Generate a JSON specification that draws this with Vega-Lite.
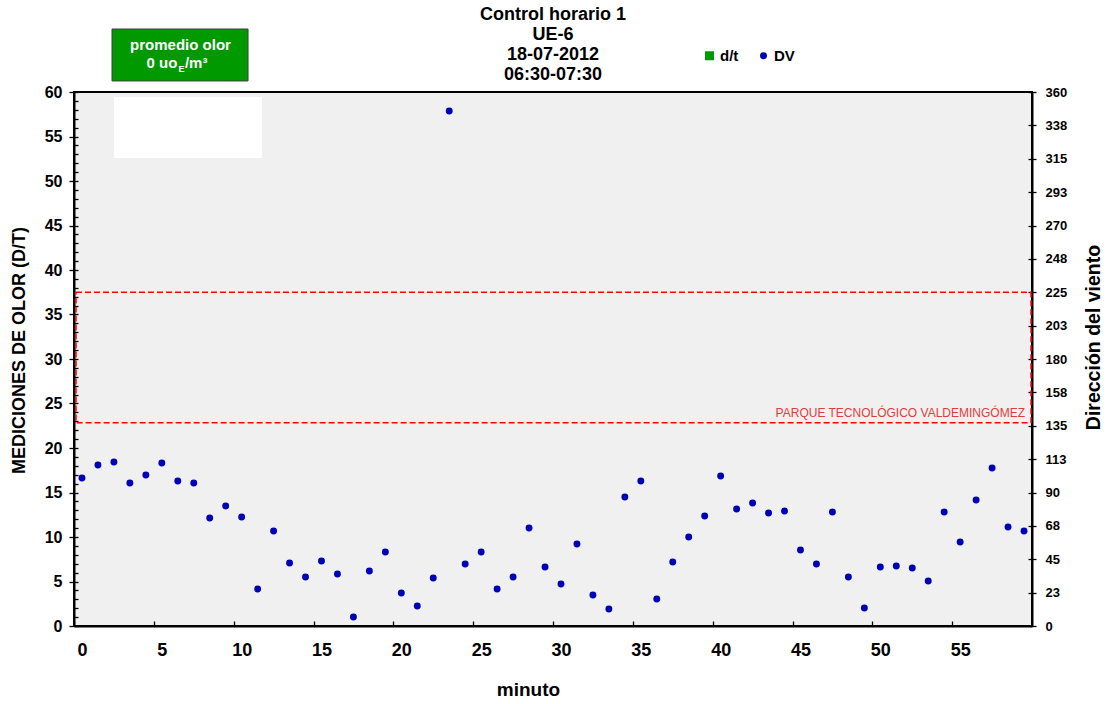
{
  "$schema": "https://vega.github.io/schema/vega-lite/v6.json",
  "width": 958,
  "height": 534,
  "autosize": {"type": "none"},
  "padding": {"left": 74, "top": 92, "right": 75, "bottom": 78},
  "background": "white",
  "title": {
    "text": ["Control horario 1", "UE-6", "18-07-2012", "06:30-07:30"],
    "anchor": "middle",
    "fontSize": 18,
    "fontWeight": "bold",
    "font": "Liberation Sans",
    "lineHeight": 20,
    "offset": 8,
    "dy": 64,
    "color": "black"
  },
  "config": {
    "font": "Liberation Sans",
    "view": {"fill": "#f0f0f0", "stroke": "black", "strokeWidth": 2},
    "axis": {
      "grid": false,
      "domainColor": "black",
      "domainWidth": 2,
      "tickColor": "black",
      "tickWidth": 1.3,
      "labelColor": "black",
      "labelFontWeight": "bold",
      "titleColor": "black",
      "titleFontWeight": "bold",
      "labelFont": "Liberation Sans",
      "titleFont": "Liberation Sans"
    }
  },
  "resolve": {"scale": {"y": "independent"}},
  "layer": [
    {
      "data": {"values": [{"x": 2.0, "x2": 11.27, "y": 52.58, "y2": 59.44}]},
      "mark": {"type": "rect", "fill": "white"},
      "encoding": {
        "x": {"field": "x", "type": "quantitative", "title": "minuto", "scale": {"domain": [-0.5, 59.5], "nice": false, "zero": false},
          "axis": {"values": [0, 5, 10, 15, 20, 25, 30, 35, 40, 45, 50, 55], "tickOffset": -7.98, "labelOffset": 7.98, "tickSize": -5, "labelPadding": 20, "labelFontSize": 18, "titleFontSize": 19, "titleX": 454, "titleY": 69, "titleBaseline": "alphabetic", "titleAlign": "center"}},
        "x2": {"field": "x2"},
        "y": {
          "field": "y", "type": "quantitative",
          "scale": {"domain": [0, 60], "nice": false, "zero": false},
          "axis": {
            "orient": "left",
            "values": [0, 5, 10, 15, 20, 25, 30, 35, 40, 45, 50, 55, 60],
            "tickSize": 5, "labelPadding": 7, "labelFontSize": 16,
            "title": "MEDICIONES DE OLOR (D/T)", "titleFontSize": 18,
            "titleAngle": 270, "titleX": -54.5, "titleY": 258,
            "titleBaseline": "middle", "titleAlign": "center"
          }
        },
        "y2": {"field": "y2"}
      }
    },
    {
      "data": {"values": [{"x": 1.88, "x2": 10.4, "y": 61.24, "y2": 67.08}]},
      "mark": {"type": "rect", "fill": "#009900", "stroke": "#404040", "strokeWidth": 1, "clip": false},
      "encoding": {
        "x": {"field": "x", "type": "quantitative", "title": "minuto", "scale": {"domain": [-0.5, 59.5], "nice": false, "zero": false},
          "axis": {"values": [0, 5, 10, 15, 20, 25, 30, 35, 40, 45, 50, 55], "tickOffset": -7.98, "labelOffset": 7.98, "tickSize": -5, "labelPadding": 20, "labelFontSize": 18, "titleFontSize": 19, "titleX": 454, "titleY": 69, "titleBaseline": "alphabetic", "titleAlign": "center"}},
        "x2": {"field": "x2"},
        "y": {
          "field": "y", "type": "quantitative",
          "scale": {"domain": [0, 60], "nice": false, "zero": false},
          "axis": {
            "orient": "left",
            "values": [0,1,2,3,4,5,6,7,8,9,10,11,12,13,14,15,16,17,18,19,20,21,22,23,24,25,26,27,28,29,30,31,32,33,34,35,36,37,38,39,40,41,42,43,44,45,46,47,48,49,50,51,52,53,54,55,56,57,58,59,60],
            "tickSize": -4, "labels": false, "domain": false, "title": null
          }
        },
        "y2": {"field": "y2"}
      }
    },
    {
      "data": {"values": [
        {"x": 6.17, "y": 64.72, "label": "promedio olor"},
        {"x": 5.01, "y": 62.7, "label": "0 uo"},
        {"x": 7.15, "y": 62.7, "label": "/m³"}
      ]},
      "mark": {"type": "text", "color": "white", "fontSize": 15, "fontWeight": "bold", "align": "center", "baseline": "alphabetic", "clip": false},
      "encoding": {
        "x": {"field": "x", "type": "quantitative", "title": "minuto", "scale": {"domain": [-0.5, 59.5], "nice": false, "zero": false},
          "axis": {"values": [0, 5, 10, 15, 20, 25, 30, 35, 40, 45, 50, 55], "tickOffset": -7.98, "labelOffset": 7.98, "tickSize": -5, "labelPadding": 20, "labelFontSize": 18, "titleFontSize": 19, "titleX": 454, "titleY": 69, "titleBaseline": "alphabetic", "titleAlign": "center"}},
        "y": {"field": "y", "type": "quantitative", "scale": {"domain": [0, 60], "nice": false, "zero": false}, "axis": null},
        "text": {"field": "label"}
      }
    },
    {
      "data": {"values": [{"x": 6.23, "y": 62.25, "label": "E"}]},
      "mark": {"type": "text", "color": "white", "fontSize": 9, "fontWeight": "bold", "align": "center", "baseline": "alphabetic", "clip": false},
      "encoding": {
        "x": {"field": "x", "type": "quantitative", "title": "minuto", "scale": {"domain": [-0.5, 59.5], "nice": false, "zero": false},
          "axis": {"values": [0, 5, 10, 15, 20, 25, 30, 35, 40, 45, 50, 55], "tickOffset": -7.98, "labelOffset": 7.98, "tickSize": -5, "labelPadding": 20, "labelFontSize": 18, "titleFontSize": 19, "titleX": 454, "titleY": 69, "titleBaseline": "alphabetic", "titleAlign": "center"}},
        "y": {"field": "y", "type": "quantitative", "scale": {"domain": [0, 60], "nice": false, "zero": false}, "axis": null},
        "text": {"field": "label"}
      }
    },
    {
      "data": {"values": [{"x": -0.375, "x2": 59.44, "y": 137, "y2": 225}]},
      "mark": {"type": "rect", "fill": "white", "fillOpacity": 0, "stroke": "#ff0000", "strokeWidth": 1.5, "strokeDash": [6, 3]},
      "encoding": {
        "x": {"field": "x", "type": "quantitative", "title": "minuto", "scale": {"domain": [-0.5, 59.5], "nice": false, "zero": false},
          "axis": {"values": [0, 5, 10, 15, 20, 25, 30, 35, 40, 45, 50, 55], "tickOffset": -7.98, "labelOffset": 7.98, "tickSize": -5, "labelPadding": 20, "labelFontSize": 18, "titleFontSize": 19, "titleX": 454, "titleY": 69, "titleBaseline": "alphabetic", "titleAlign": "center"}},
        "x2": {"field": "x2"},
        "y": {
          "field": "y", "type": "quantitative",
          "scale": {"domain": [0, 360], "nice": false, "zero": false},
          "axis": {
            "orient": "right",
            "values": [0, 22.5, 45, 67.5, 90, 112.5, 135, 157.5, 180, 202.5, 225, 247.5, 270, 292.5, 315, 337.5, 360],
            "tickSize": -4, "labels": false, "domain": false, "title": null
          }
        },
        "y2": {"field": "y2"}
      }
    },
    {
      "data": {"values": [{"x": 59.06, "y": 140.9, "label": "PARQUE TECNOLÓGICO VALDEMINGÓMEZ"}]},
      "mark": {"type": "text", "color": "#e03c3c", "fontSize": 12, "align": "right", "baseline": "alphabetic"},
      "encoding": {
        "x": {"field": "x", "type": "quantitative", "title": "minuto", "scale": {"domain": [-0.5, 59.5], "nice": false, "zero": false},
          "axis": {"values": [0, 5, 10, 15, 20, 25, 30, 35, 40, 45, 50, 55], "tickOffset": -7.98, "labelOffset": 7.98, "tickSize": -5, "labelPadding": 20, "labelFontSize": 18, "titleFontSize": 19, "titleX": 454, "titleY": 69, "titleBaseline": "alphabetic", "titleAlign": "center"}},
        "y": {"field": "y", "type": "quantitative", "scale": {"domain": [0, 360], "nice": false, "zero": false}, "axis": null},
        "text": {"field": "label"}
      }
    },
    {
      "data": {"values": [
        {"minuto": 0, "dv": 99.8, "serie": "DV"},
        {"minuto": 1, "dv": 108.5, "serie": "DV"},
        {"minuto": 2, "dv": 110.6, "serie": "DV"},
        {"minuto": 3, "dv": 96.4, "serie": "DV"},
        {"minuto": 4, "dv": 101.8, "serie": "DV"},
        {"minuto": 5, "dv": 109.9, "serie": "DV"},
        {"minuto": 6, "dv": 97.8, "serie": "DV"},
        {"minuto": 7, "dv": 96.4, "serie": "DV"},
        {"minuto": 8, "dv": 72.8, "serie": "DV"},
        {"minuto": 9, "dv": 80.9, "serie": "DV"},
        {"minuto": 10, "dv": 73.5, "serie": "DV"},
        {"minuto": 11, "dv": 24.9, "serie": "DV"},
        {"minuto": 12, "dv": 64.0, "serie": "DV"},
        {"minuto": 13, "dv": 42.5, "serie": "DV"},
        {"minuto": 14, "dv": 33.0, "serie": "DV"},
        {"minuto": 15, "dv": 43.8, "serie": "DV"},
        {"minuto": 16, "dv": 35.1, "serie": "DV"},
        {"minuto": 17, "dv": 6.1, "serie": "DV"},
        {"minuto": 18, "dv": 37.1, "serie": "DV"},
        {"minuto": 19, "dv": 49.9, "serie": "DV"},
        {"minuto": 20, "dv": 22.2, "serie": "DV"},
        {"minuto": 21, "dv": 13.5, "serie": "DV"},
        {"minuto": 22, "dv": 32.4, "serie": "DV"},
        {"minuto": 23, "dv": 347.2, "serie": "DV"},
        {"minuto": 24, "dv": 41.8, "serie": "DV"},
        {"minuto": 25, "dv": 49.9, "serie": "DV"},
        {"minuto": 26, "dv": 24.9, "serie": "DV"},
        {"minuto": 27, "dv": 33.0, "serie": "DV"},
        {"minuto": 28, "dv": 66.1, "serie": "DV"},
        {"minuto": 29, "dv": 39.8, "serie": "DV"},
        {"minuto": 30, "dv": 28.3, "serie": "DV"},
        {"minuto": 31, "dv": 55.3, "serie": "DV"},
        {"minuto": 32, "dv": 20.9, "serie": "DV"},
        {"minuto": 33, "dv": 11.5, "serie": "DV"},
        {"minuto": 34, "dv": 87.0, "serie": "DV"},
        {"minuto": 35, "dv": 97.8, "serie": "DV"},
        {"minuto": 36, "dv": 18.2, "serie": "DV"},
        {"minuto": 37, "dv": 43.1, "serie": "DV"},
        {"minuto": 38, "dv": 60.0, "serie": "DV"},
        {"minuto": 39, "dv": 74.2, "serie": "DV"},
        {"minuto": 40, "dv": 101.1, "serie": "DV"},
        {"minuto": 41, "dv": 78.9, "serie": "DV"},
        {"minuto": 42, "dv": 82.9, "serie": "DV"},
        {"minuto": 43, "dv": 76.2, "serie": "DV"},
        {"minuto": 44, "dv": 77.5, "serie": "DV"},
        {"minuto": 45, "dv": 51.2, "serie": "DV"},
        {"minuto": 46, "dv": 41.8, "serie": "DV"},
        {"minuto": 47, "dv": 76.9, "serie": "DV"},
        {"minuto": 48, "dv": 33.0, "serie": "DV"},
        {"minuto": 49, "dv": 12.1, "serie": "DV"},
        {"minuto": 50, "dv": 39.8, "serie": "DV"},
        {"minuto": 51, "dv": 40.5, "serie": "DV"},
        {"minuto": 52, "dv": 39.1, "serie": "DV"},
        {"minuto": 53, "dv": 30.3, "serie": "DV"},
        {"minuto": 54, "dv": 76.9, "serie": "DV"},
        {"minuto": 55, "dv": 56.6, "serie": "DV"},
        {"minuto": 56, "dv": 84.9, "serie": "DV"},
        {"minuto": 57, "dv": 106.5, "serie": "DV"},
        {"minuto": 58, "dv": 66.7, "serie": "DV"},
        {"minuto": 59, "dv": 64.0, "serie": "DV"}
      ]},
      "mark": {"type": "point", "filled": true, "opacity": 1},
      "encoding": {
        "x": {"field": "minuto", "type": "quantitative", "title": "minuto", "scale": {"domain": [-0.5, 59.5], "nice": false, "zero": false},
          "axis": {"values": [0, 5, 10, 15, 20, 25, 30, 35, 40, 45, 50, 55], "tickOffset": -7.98, "labelOffset": 7.98, "tickSize": -5, "labelPadding": 20, "labelFontSize": 18, "titleFontSize": 19, "titleX": 454, "titleY": 69, "titleBaseline": "alphabetic", "titleAlign": "center"}},
        "y": {
          "field": "dv", "type": "quantitative",
          "scale": {"domain": [0, 360], "nice": false, "zero": false},
          "axis": {
            "orient": "right",
            "values": [0, 22.5, 45, 67.5, 90, 112.5, 135, 157.5, 180, 202.5, 225, 247.5, 270, 292.5, 315, 337.5, 360],
            "labelExpr": "format(datum.value, '.0f')",
            "tickSize": 4, "labelPadding": 9, "labelFontSize": 13,
            "title": "Dirección del viento", "titleFontSize": 19.5,
            "titleAngle": 270, "titleX": 61, "titleY": 245,
            "titleBaseline": "middle", "titleAlign": "center"
          }
        },
        "color": {
          "field": "serie", "type": "nominal",
          "scale": {"domain": ["d/t", "DV"], "range": ["#009900", "#0000b4"]},
          "legend": {
            "orient": "none", "legendX": 628, "legendY": -44, "direction": "horizontal",
            "title": null, "labelFontSize": 15, "labelFontWeight": "bold", "labelColor": "black",
            "labelOffset": 3, "columnPadding": 17, "padding": 0, "symbolStrokeWidth": 0
          }
        },
        "shape": {"field": "serie", "type": "nominal", "scale": {"domain": ["d/t", "DV"], "range": ["square", "circle"]}},
        "size": {"field": "serie", "type": "nominal", "scale": {"domain": ["d/t", "DV"], "range": [81, 48]}}
      }
    }
  ]
}
